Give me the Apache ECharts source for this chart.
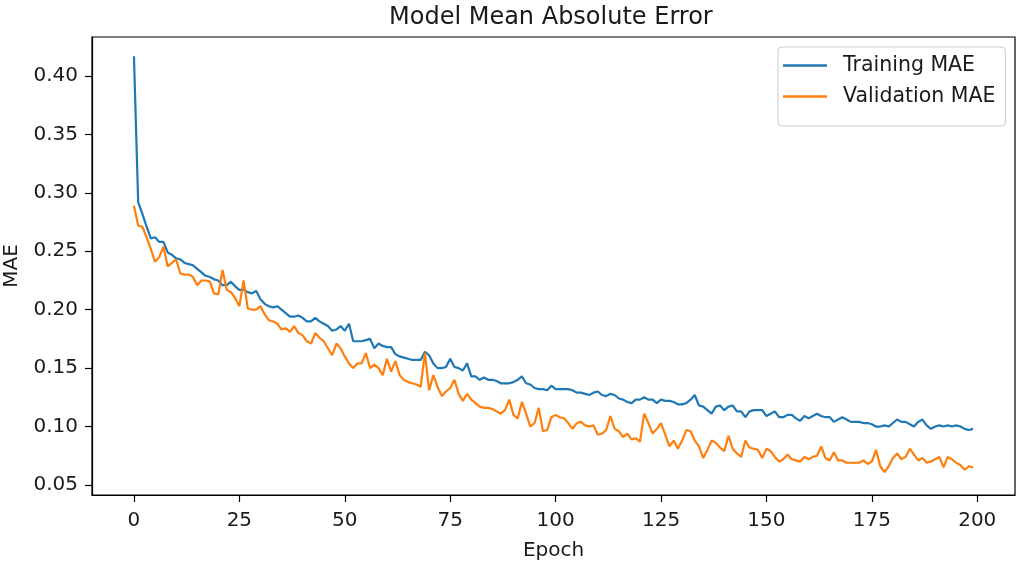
<!DOCTYPE html>
<html>
<head>
<meta charset="utf-8">
<script src="https://cdn.jsdelivr.net/npm/echarts@6/dist/echarts.min.js"></script>
<style>
html,body{margin:0;padding:0;background:#fff;}
#chart{width:1022px;height:565px;}
</style>
</head>
<body>
<div id="chart"></div>
<script>
const trainingMAE = [
0.417,0.292,0.282,0.271,0.261,0.262,0.258,0.258,0.249,0.247,
0.244,0.243,0.240,0.239,0.238,0.235,0.232,0.229,0.228,0.226,
0.225,0.221,0.221,0.224,0.220,0.217,0.217,0.215,0.214,0.216,
0.209,0.205,0.203,0.202,0.203,0.200,0.197,0.194,0.194,0.195,
0.193,0.190,0.190,0.193,0.190,0.188,0.186,0.182,0.183,0.186,
0.182,0.188,0.173,0.173,0.173,0.174,0.175,0.167,0.171,0.169,
0.168,0.168,0.162,0.160,0.159,0.158,0.157,0.157,0.157,0.164,
0.161,0.154,0.150,0.150,0.151,0.158,0.151,0.150,0.148,0.154,
0.143,0.143,0.140,0.142,0.140,0.140,0.139,0.137,0.137,0.137,
0.138,0.140,0.143,0.137,0.136,0.133,0.132,0.132,0.131,0.135,
0.132,0.132,0.132,0.132,0.131,0.129,0.129,0.128,0.127,0.129,
0.130,0.127,0.126,0.128,0.127,0.124,0.123,0.121,0.120,0.123,
0.123,0.125,0.123,0.123,0.120,0.123,0.122,0.122,0.121,0.119,
0.119,0.120,0.123,0.127,0.118,0.117,0.114,0.111,0.117,0.118,
0.114,0.117,0.118,0.113,0.113,0.108,0.113,0.114,0.114,0.114,
0.109,0.111,0.113,0.108,0.108,0.110,0.110,0.107,0.105,0.109,
0.107,0.109,0.111,0.109,0.108,0.108,0.104,0.106,0.108,0.106,
0.104,0.104,0.104,0.103,0.103,0.102,0.100,0.100,0.101,0.100,
0.103,0.106,0.104,0.104,0.102,0.100,0.104,0.106,0.101,0.098,
0.100,0.101,0.100,0.101,0.100,0.101,0.100,0.098,0.097,0.098
];
const validationMAE = [
0.289,0.272,0.271,0.262,0.252,0.241,0.245,0.254,0.237,0.240,
0.243,0.231,0.230,0.230,0.228,0.221,0.225,0.225,0.224,0.214,
0.213,0.234,0.217,0.215,0.210,0.203,0.225,0.201,0.200,0.200,
0.203,0.196,0.191,0.190,0.188,0.183,0.184,0.181,0.186,0.180,
0.178,0.173,0.171,0.180,0.176,0.173,0.167,0.161,0.171,0.167,
0.160,0.154,0.150,0.154,0.154,0.163,0.150,0.153,0.150,0.144,
0.158,0.147,0.156,0.144,0.140,0.138,0.137,0.136,0.134,0.163,
0.131,0.144,0.134,0.126,0.130,0.133,0.140,0.128,0.122,0.128,
0.123,0.120,0.117,0.116,0.116,0.115,0.113,0.111,0.114,0.123,
0.110,0.107,0.121,0.111,0.100,0.103,0.116,0.096,0.097,0.108,
0.110,0.108,0.107,0.103,0.098,0.103,0.104,0.101,0.100,0.101,
0.093,0.094,0.097,0.109,0.098,0.096,0.091,0.094,0.089,0.090,
0.087,0.111,0.103,0.094,0.098,0.103,0.093,0.083,0.088,0.081,
0.088,0.097,0.096,0.088,0.083,0.073,0.080,0.088,0.086,0.082,
0.079,0.092,0.081,0.077,0.074,0.088,0.082,0.081,0.080,0.073,
0.081,0.079,0.074,0.070,0.072,0.076,0.072,0.071,0.070,0.074,
0.072,0.074,0.075,0.083,0.073,0.071,0.078,0.071,0.071,0.069,
0.069,0.069,0.069,0.071,0.068,0.070,0.080,0.066,0.061,0.066,
0.073,0.077,0.072,0.074,0.081,0.076,0.071,0.073,0.069,0.070,
0.072,0.074,0.065,0.074,0.072,0.069,0.067,0.063,0.066,0.065
];
const xTicks = [0,25,50,75,100,125,150,175,200];
const yTicks = [0.05,0.10,0.15,0.20,0.25,0.30,0.35,0.40];
const seriesNames = ['Training MAE','Validation MAE'];

const toPairs = arr => arr.map((v,i) => [i, v]);
const FONT = 'DejaVu Sans';
const TXT = '#1a1a1a';

const chart = echarts.init(document.getElementById('chart'), null, {renderer:'canvas'});
chart.setOption({
  animation:false,
  backgroundColor:'#fff',
  title:{
    text:'Model Mean Absolute Error',
    left:384, top:1,
    textStyle:{fontFamily:FONT,fontSize:24,fontWeight:'normal',color:TXT}
  },
  legend:{
    orient:'vertical',
    left:778, top:47,
    padding:[8,10,19,5],
    itemWidth:44, itemHeight:2.4, itemGap:10, itemTextGap:5,
    icon:'rect',
    backgroundColor:'rgba(255,255,255,0.8)',
    borderColor:'#cccccc', borderWidth:1, borderRadius:4,
    textStyle:{fontFamily:FONT,fontSize:20.5,color:TXT,lineHeight:21,padding:[0,0,0,11]},
    data:seriesNames
  },
  grid:{
    left:92, right:7, top:37, bottom:70,
    containLabel:false, outerBoundsMode:'none',
    show:true, borderColor:'#000', borderWidth:1.2, backgroundColor:'transparent'
  },
  xAxis:{
    type:'value', min:-9.95, max:208.95,
    name:'Epoch', nameLocation:'middle', nameGap:46,
    nameTextStyle:{fontFamily:FONT,fontSize:20,color:TXT},
    axisLine:{show:true,onZero:false,lineStyle:{color:'#000',width:1.2}},
    axisTick:{show:true,length:7,lineStyle:{color:'#000',width:1.2},customValues:xTicks},
    axisLabel:{customValues:xTicks,fontFamily:FONT,fontSize:20,color:TXT,margin:16},
    splitLine:{show:false}
  },
  yAxis:{
    type:'value', min:0.0414, max:0.4334,
    name:'MAE', nameLocation:'middle', nameGap:70, nameRotate:90,
    nameTextStyle:{fontFamily:FONT,fontSize:20,color:TXT},
    axisLine:{show:true,onZero:false,lineStyle:{color:'#000',width:1.2}},
    axisTick:{show:true,length:7,lineStyle:{color:'#000',width:1.2},customValues:yTicks},
    axisLabel:{customValues:yTicks,fontFamily:FONT,fontSize:20,color:TXT,margin:14,
      formatter:v=>v.toFixed(2)},
    splitLine:{show:false}
  },
  series:[
    {name:seriesNames[0],type:'line',data:toPairs(trainingMAE),showSymbol:false,
     lineStyle:{color:'#1f77b4',width:2.2},itemStyle:{color:'#1f77b4'},z:2},
    {name:seriesNames[1],type:'line',data:toPairs(validationMAE),showSymbol:false,
     lineStyle:{color:'#ff7f0e',width:2.2},itemStyle:{color:'#ff7f0e'},z:3}
  ]
});
</script>
</body>
</html>
